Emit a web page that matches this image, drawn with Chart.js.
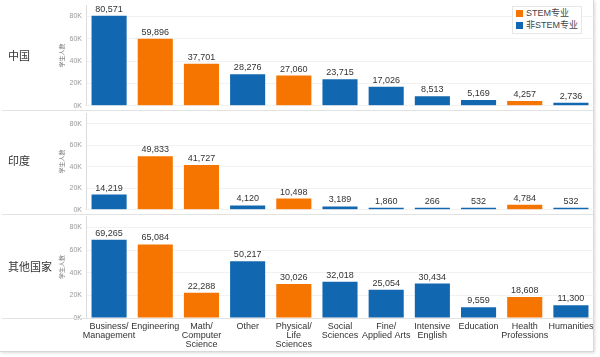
<!DOCTYPE html>
<html><head><meta charset="utf-8">
<script src="https://cdn.jsdelivr.net/npm/chart.js@4/dist/chart.umd.min.js"></script>
<style>
html,body{margin:0;padding:0;background:#fff;}
#wrap{position:relative;width:600px;height:357px;overflow:hidden;font-family:"Liberation Sans","Noto Sans CJK SC",sans-serif;}
#frame{position:absolute;left:0;top:0;width:593px;height:351px;border-right:1px solid #d8d8d8;border-bottom:1px solid #d8d8d8;box-shadow:1px 1px 3px rgba(0,0,0,0.15);}
canvas{position:absolute;left:0;}
.row{position:absolute;left:8px;font-size:11px;color:#333;font-family:"Noto Sans CJK SC",sans-serif;}
.hl{position:absolute;left:2px;width:591px;height:1px;background:#e2e2e2;}
#legend{position:absolute;left:512px;top:6px;width:68px;height:26px;border:1px solid #e6e6e6;background:#fff;font-size:9px;color:#444;font-family:"Liberation Sans","Noto Sans CJK SC",sans-serif;}
#legend div{position:relative;height:11px;line-height:11px;padding-left:13px;margin-top:1px;}
#legend span{position:absolute;left:3px;top:2px;width:7px;height:7px;}
</style></head>
<body><div id="wrap">
<div id="frame"></div>
<canvas id="c1" width="600" height="117" style="top:-3px"></canvas>
<canvas id="c2" width="600" height="113" style="top:105px"></canvas>
<canvas id="c3" width="600" height="147" style="top:208px"></canvas>
<div class="hl" style="top:110px"></div>
<div class="hl" style="top:214px"></div>
<div class="hl" style="top:318px"></div>
<div class="row" style="top:47px">中国</div>
<div class="row" style="top:152px">印度</div>
<div class="row" style="top:258px">其他国家</div>
<div id="legend">
<div><span style="background:#F57500"></span>STEM专业</div>
<div><span style="background:#1268B0"></span>非STEM专业</div>
</div>
</div>
<script>
const categories = [["Business/","Management"],"Engineering",["Math/","Computer","Science"],"Other",["Physical/","Life","Sciences"],["Social","Sciences"],["Fine/","Applied Arts"],["Intensive","English"],"Education",["Health","Professions"],"Humanities"];
const isSTEM = [false,true,true,false,true,false,false,false,false,true,false];
const chinaValues = [80571,59896,37701,28276,27060,23715,17026,8513,5169,4257,2736];
const indiaValues = [14219,49833,41727,4120,10498,3189,1860,266,532,4784,532];
const otherValues = [69265,65084,22288,50217,30026,32018,25054,30434,9559,18608,11300];
const yTicks = [0,20000,40000,60000,80000];
const yTitle = "学生人数";

const ORANGE = "#F57500", BLUE = "#1268B0";
const colors = isSTEM.map(s => s ? ORANGE : BLUE);
const fontFam = '"Liberation Sans","Noto Sans CJK SC",sans-serif';

const labelPlugin = {
  id: 'barLabels',
  afterDatasetsDraw(chart) {
    const ctx = chart.ctx;
    const ds = chart.data.datasets[0];
    const meta = chart.getDatasetMeta(0);
    ctx.save();
    ctx.font = '9px ' + fontFam;
    ctx.fillStyle = '#333';
    ctx.textAlign = 'center';
    ctx.textBaseline = 'bottom';
    meta.data.forEach((bar, i) => {
      ctx.fillText(ds.data[i].toLocaleString('en-US'), bar.x, bar.y - 2);
    });
    ctx.restore();
  }
};

function makeChart(id, values, pad, showX) {
  return new Chart(document.getElementById(id), {
    type: 'bar',
    data: {
      labels: categories,
      datasets: [{ data: values, backgroundColor: colors, borderWidth: 0, minBarLength: 2,
        barPercentage: 0.76, categoryPercentage: 1.0 }]
    },
    options: {
      responsive: false, animation: false,
      layout: { padding: pad },
      plugins: { legend: { display: false }, tooltip: { enabled: false } },
      scales: {
        x: {
          display: showX,
          grid: { display: false, drawTicks: false },
          border: { display: false },
          ticks: { color: '#333', font: { size: 9, family: fontFam, lineHeight: 1.0 }, maxRotation: 0, autoSkip: false, padding: 4 },
          afterFit: s => { s.height = showX ? 35 : 0; }
        },
        y: {
          min: 0, max: 90000,
          afterBuildTicks: s => { s.ticks = yTicks.map(v => ({ value: v })); },
          afterFit: s => { s.width = 28; },
          grid: { color: '#f2f2f2', drawTicks: false },
          border: { display: true, color: '#dcdcdc' },
          ticks: { color: '#999', font: { size: 7, family: fontFam }, padding: 4,
            callback: v => (v / 1000) + 'K' },
          title: { display: true, text: yTitle, color: '#777', font: { size: 6, family: '"Noto Sans CJK SC",sans-serif' }, padding: 0 }
        }
      }
    },
    plugins: [labelPlugin]
  });
}

makeChart('c1', chinaValues, { left: 58, right: 6, top: 4, bottom: 1 }, false);
makeChart('c2', indiaValues, { left: 58, right: 6, top: 2, bottom: 1 }, false);
makeChart('c3', otherValues, { left: 58, right: 6, top: 2, bottom: 2 }, true);
</script>
</body></html>
